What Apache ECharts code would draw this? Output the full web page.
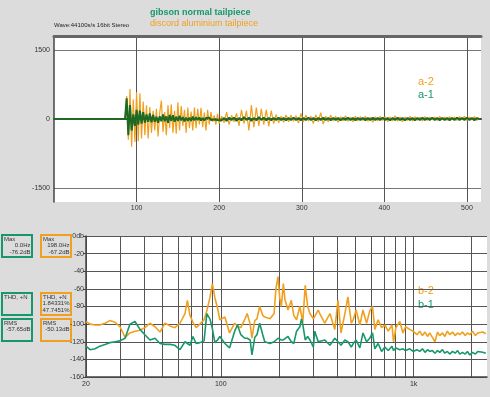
<!DOCTYPE html>
<html>
<head>
<meta charset="utf-8">
<script src="https://cdn.jsdelivr.net/npm/echarts@6/dist/echarts.min.js"></script>
<style>
  html, body { margin: 0; padding: 0; background: #dcdcdc; }
  #chart { width: 490px; height: 397px; }
</style>
</head>
<body>
<div id="chart"></div>
<script>
// ---- waveform (top panel) ----
const waveT = [0,
  86, 88, 90, 92, 94, 96, 98, 100, 102, 104,
  106, 108, 110, 112, 114, 116, 118, 120, 122, 124,
  126, 128, 130, 132, 134, 136, 138, 140, 142, 144,
  146, 148, 150, 152, 154, 156, 158, 160, 162, 164,
  166, 168, 170, 172, 174, 176, 178, 180, 182, 184,
  186, 188, 190, 192, 194, 196, 198, 200,
  203, 206, 209, 212, 215, 218, 221, 224, 227, 230,
  233, 236, 239, 242, 245, 248, 251, 254, 257, 260,
  263, 266, 269, 272, 275, 278, 281, 284, 287, 290,
  293, 296, 299, 302, 305, 308, 311, 314, 317, 320,
  323, 326, 329, 332, 335, 338, 341, 344, 347, 350,
  353, 356, 359, 362, 365, 368, 371, 374, 377, 380,
  383, 386, 389, 392, 395, 398, 401, 404, 407, 410,
  413, 416, 419, 422, 425, 428, 431, 434, 437, 440,
  443, 446, 449, 452, 455, 458, 461, 464, 467, 470,
  473, 476, 479, 482, 485, 488, 491, 494, 497, 500,
  503, 506, 509, 512, 515]

// a-2 : discord aluminium tailpiece
const waveA2 = [0,
  0, 500, -450, 650, -600, 420, -500, 580, -480, 560,
  -420, 380, -350, 300, -420, 260, -300, 180, -250, 220,
  -380, 140, 400, -280, 150, -350, 300, -200, 320, -300,
  180, -320, 360, -250, 280, -150, 200, -300, 250, -200,
  160, -250, 250, -200, 220, -120, 240, -180, 140, -250,
  200, -120, 150, -60, 80, -120, 110, -100,
  60, -80, 150, -120, 80, -60, 120, -150, 200, -100,
  180, -250, 300, -180, 250, -150, 220, -120, 200, -160,
  180, -100, 100, -80, 60, -70, 90, -60, 80, -50,
  70, -90, 120, -60, 80, -40, 60, -100, 90, -60,
  140, -110, 60, -60, 80, -40, 60, -70, 50, -40,
  70, -50, 40, -60, 60, -40, 50, -30, 60, -50,
  40, -70, 50, -40, 60, -30, 50, -60, 40, -40,
  70, -50, 40, -60, 40, -30, 60, -40, 50, -30,
  40, -40, 50, -30, 40, -20, 40, -30, 60, -20,
  40, -30, 50, -20, 40, -30, 50, -20, 60, -30,
  40, -20, 50, -30, 10]

// a-1 : gibson normal tailpiece
const waveA1 = [0,
  0, 450, -350, 300, -250, 100, -150, 200, -120, 180,
  -100, 150, -80, 100, -60, 120, -70, 90, -60, 50,
  -80, 60, -50, 100, -50, 60, -80, 90, -40, 80,
  -60, 50, -40, 70, -30, 40, -50, 30, -40, 30,
  -40, 50, -30, 40, -20, 30, -30, 20, -30, 20,
  -20, 30, -20, 20, -10, 20, -20, 10,
  -30, 20, -40, 30, -20, 30, -40, 20, -30, 40,
  -20, 30, -40, 20, -30, 40, -20, 30, -30, 20,
  -30, 20, -20, 30, -20, 20, -30, 20, -20, 30,
  -20, 20, -30, 20, -20, 30, -20, 20, -30, 20,
  -20, 30, -20, 20, -30, 20, -20, 20, -30, 20,
  -20, 30, -20, 20, -30, 20, -20, 20, -30, 20,
  -20, 30, -20, 20, -20, 30, -20, 20, -30, 20,
  -20, 30, -20, 20, -30, 20, -20, 20, -30, 20,
  -20, 30, -20, 20, -20, 30, -20, 20, -30, 20,
  -20, 20, -30, 20, -20, 30, -20, 20, -20, 30,
  -20, 20, -30, 20, 0]

const waveXTicks = [100, 200, 300, 400, 500]
const waveYTicks = [-1500, 0, 1500]

// ---- spectrum (bottom panel) ----
const specFreq = [
  20, 21, 22.3, 23.6, 25.1, 26.6, 28.3, 30, 31.9, 33.8,
  35.9, 38.1, 40.4, 42.9, 45.6, 48.4, 51.3, 54.5, 57.8, 61.4,
  65.2, 67.1, 69.2, 71.7, 74.5, 77.9, 81.9, 84.6, 87.8, 90.4,
  93.2, 96.2, 98.9, 105, 111, 118, 122, 127, 133, 137,
  142, 145, 150, 154, 159, 165, 169, 180, 189, 193,
  198, 202, 206, 211, 215, 223, 232, 239, 247, 257,
  262, 266, 274, 282, 290, 302, 307, 320, 326, 346,
  368, 390, 405, 420, 440, 456, 475, 486, 503, 526,
  546, 570, 592, 612, 629, 654, 682, 709, 738, 772,
  786, 809, 847, 880, 907, 954, 993, 1040, 1075, 1110,
  1145, 1180, 1211, 1250, 1290, 1330, 1365, 1410, 1450, 1495,
  1538, 1590, 1640, 1690, 1733, 1790, 1850, 1900, 1953, 2020,
  2090, 2150, 2200, 2280, 2366]

// b-2 (orange)
const specB2 = [
  -97, -100, -101, -101, -99, -96, -98, -103, -115, -110,
  -108, -107, -104, -99, -103, -109, -99, -102, -104, -99,
  -88, -73, -90, -98, -104, -100, -95, -85, -70, -54,
  -70, -82, -95, -92, -110, -99, -102, -104, -95, -88,
  -100, -116, -96, -94, -80, -90, -92, -94, -88, -60,
  -46, -70, -80, -54, -72, -84, -73, -90, -95, -80,
  -90, -98, -56, -80, -88, -94, -95, -84, -88, -99,
  -88, -106, -73, -110, -88, -69, -99, -95, -84, -101,
  -84, -99, -85, -80, -106, -95, -104, -101, -108, -101,
  -120, -104, -97, -110, -103, -106, -108, -112, -108, -113,
  -109, -114, -110, -115, -120, -109, -113, -110, -114, -108,
  -112, -109, -113, -110, -112, -109, -113, -110, -112, -108,
  -113, -110, -112, -109, -111]

// b-1 (green)
const specB1 = [
  -125, -129, -128, -125, -123, -121, -120, -119, -116, -100,
  -97, -106, -112, -118, -116, -122, -123, -123, -124, -129,
  -120, -122, -124, -114, -122, -121, -119, -88, -94, -105,
  -121, -118, -114, -122, -127, -108, -101, -112, -116, -116,
  -118, -135, -115, -112, -99, -112, -120, -122, -120, -118,
  -116, -117, -118, -118, -116, -114, -120, -122, -108, -103,
  -94, -100, -118, -114, -118, -126, -108, -120, -119, -118,
  -124, -116, -120, -124, -118, -120, -126, -122, -118, -127,
  -110, -120, -116, -110, -128, -122, -131, -126, -130, -125,
  -130, -127, -129, -128, -130, -128, -131, -129, -131, -128,
  -132, -129, -131, -130, -133, -130, -132, -129, -133, -131,
  -134, -131, -133, -130, -134, -132, -134, -131, -135, -132,
  -134, -131, -133, -132, -133]

const specGridFreq = [20, 30, 40, 50, 60, 70, 80, 90, 100, 200, 300, 400, 500, 600, 700, 800, 900, 1000, 2000]
const specFreqLabels = [20, 100, 1000]

// readout boxes on the left
const readoutTitles = ['Max', 'THD, +N', 'RMS']
const readoutB1 = [['0.0Hz', '-76.2dB'], [], ['-57.65dB']]
const readoutB2 = [['198.0Hz', '-67.2dB'], ['1.84331%', '47.7451%'], ['-50.13dB']]

const ORANGE = '#f0a01e'
const GREEN = '#17976c'
const DARKGREEN = '#1f6a21'
const FONT = '"Liberation Sans Narrow", "Liberation Sans", sans-serif'

const boxTop = [235, 293, 319]
function readoutGraphics() {
  const els = []
  const cols = [[2, GREEN, readoutB1], [41, ORANGE, readoutB2]]
  cols.forEach(([x, color, vals]) => {
    readoutTitles.forEach((title, i) => {
      const y = boxTop[i]
      els.push({
        type: 'rect',
        shape: { x: x, y: y, width: 30, height: 22 },
        style: { fill: 'none', stroke: color, lineWidth: 2 }
      })
      els.push({
        type: 'text', x: x + 2, y: y + 1,
        style: { text: title, font: '6px ' + FONT, fill: '#333', align: 'left', verticalAlign: 'top' }
      })
      vals[i].forEach((v, k) => {
        els.push({
          type: 'text', x: x + 28.5, y: y + 7 + k * 7,
          style: { text: v, font: '6px ' + FONT, fill: '#333', align: 'right', verticalAlign: 'top' }
        })
      })
    })
  })
  return els
}

const chart = echarts.init(document.getElementById('chart'))
chart.setOption({
  animation: false,
  backgroundColor: '#dcdcdc',
  textStyle: { fontFamily: FONT },
  grid: [
    { left: 54, top: 36, right: 9, height: 166, show: true, backgroundColor: '#fff', borderWidth: 0 },
    { left: 86, top: 236, right: 3, height: 141, show: true, backgroundColor: '#fff', borderWidth: 0 }
  ],
  xAxis: [{
    gridIndex: 0,
    type: 'value',
    min: 0,
    max: 517,
    axisLine: { lineStyle: { color: '#444', width: 2 } },
    axisTick: { show: false, customValues: waveXTicks },
    axisLabel: { customValues: waveXTicks, fontSize: 7, color: '#333', margin: 3 },
    splitLine: { lineStyle: { color: '#555', width: 1 } }
  }, {
    gridIndex: 0,
    type: 'value',
    position: 'top',
    min: 0,
    max: 517,
    axisLine: { lineStyle: { color: '#666', width: 3 } },
    axisTick: { show: false },
    axisLabel: { show: false },
    splitLine: { show: false }
  }, {
    gridIndex: 1,
    type: 'log',
    logBase: 10,
    min: 20,
    max: 2400,
    axisLine: { onZero: false, lineStyle: { color: '#444', width: 1.5 } },
    axisTick: { show: false, customValues: specGridFreq },
    axisLabel: {
      customValues: specFreqLabels, fontSize: 7, color: '#333', margin: 4,
      formatter: v => v >= 1000 ? (v / 1000) + 'k' : String(v)
    },
    splitLine: { show: true, lineStyle: { color: '#555', width: 1 } }
  }],
  yAxis: [{
    gridIndex: 0,
    type: 'value',
    min: -1800,
    max: 1800,
    axisLine: { show: true, lineStyle: { color: '#444', width: 1.5 } },
    axisTick: { show: false, customValues: waveYTicks },
    axisLabel: { customValues: waveYTicks, fontSize: 7, color: '#333', margin: 4, formatter: v => String(v) },
    splitLine: { lineStyle: { color: '#777', width: 1 } }
  }, {
    gridIndex: 1,
    type: 'value',
    min: -160,
    max: 0,
    interval: 20,
    axisLine: { show: true, lineStyle: { color: '#444', width: 1.5 } },
    axisTick: { show: true, length: 3, lineStyle: { color: '#444' } },
    axisLabel: { fontSize: 7, color: '#333', margin: 2, formatter: v => v === 0 ? '0db' : String(v) },
    splitLine: { lineStyle: { color: '#555', width: 1 } }
  }],
  graphic: [
    { type: 'text', left: 150, top: 8, style: { text: 'gibson normal tailpiece', font: 'bold 9px ' + FONT, fill: GREEN } },
    { type: 'text', left: 150, top: 19, style: { text: 'discord aluminium tailpiece', font: '9px ' + FONT, fill: ORANGE } },
    { type: 'text', left: 54, top: 22, style: { text: 'Wave:44100s/s 16bit Stereo', font: '6px ' + FONT, fill: '#222' } },
    { type: 'text', left: 418, top: 76, style: { text: 'a-2', font: '11px ' + FONT, fill: ORANGE } },
    { type: 'text', left: 418, top: 89, style: { text: 'a-1', font: '11px ' + FONT, fill: GREEN } },
    { type: 'text', left: 418, top: 285, style: { text: 'b-2', font: '11px ' + FONT, fill: ORANGE } },
    { type: 'text', left: 418, top: 299, style: { text: 'b-1', font: '11px ' + FONT, fill: GREEN } }
  ].concat(readoutGraphics()),
  series: [{
    name: 'a-2',
    type: 'line',
    xAxisIndex: 0,
    yAxisIndex: 0,
    showSymbol: false,
    lineStyle: { color: ORANGE, width: 1.2 },
    data: waveT.map((t, i) => [t, waveA2[i]])
  }, {
    name: 'a-1',
    type: 'line',
    xAxisIndex: 0,
    yAxisIndex: 0,
    showSymbol: false,
    lineStyle: { color: DARKGREEN, width: 2 },
    data: waveT.map((t, i) => [t, waveA1[i]])
  }, {
    name: 'b-2',
    type: 'line',
    xAxisIndex: 2,
    yAxisIndex: 1,
    showSymbol: false,
    lineStyle: { color: ORANGE, width: 1.6 },
    data: specFreq.map((f, i) => [f, specB2[i]])
  }, {
    name: 'b-1',
    type: 'line',
    xAxisIndex: 2,
    yAxisIndex: 1,
    showSymbol: false,
    lineStyle: { color: GREEN, width: 1.6 },
    data: specFreq.map((f, i) => [f, specB1[i]])
  }]
})
</script>
</body>
</html>
